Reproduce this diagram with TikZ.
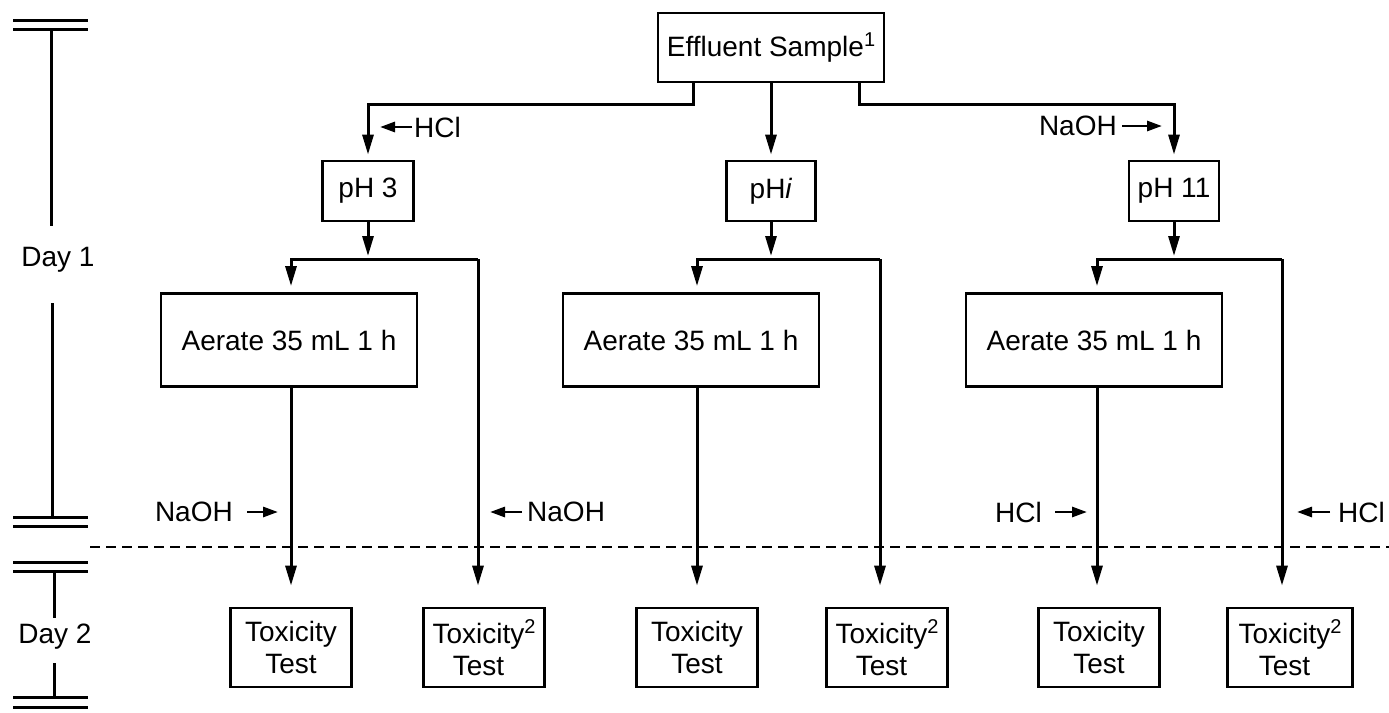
\documentclass[tikz,border=0pt]{standalone}
\usepackage{fontspec}
\setmainfont{Liberation Sans}
\usetikzlibrary{arrows.meta}
\newcommand\supr[1]{\raisebox{10pt}{\fontsize{20}{20}\selectfont #1}}
\begin{document}
\begin{tikzpicture}[x=1pt,y=-1pt,
  ln/.style={line width=3pt},
  box/.style={draw, line width=2.8pt, inner sep=0pt, align=center, font=\fontsize{28}{32}\selectfont},
  lbl/.style={inner sep=0pt, font=\fontsize{28}{32}\selectfont},
  arr/.style={ln, -{Triangle[length=20pt,width=11pt]}},
  larr/.style={line width=2.8pt, -{Triangle[length=15pt,width=10pt]}},
  phbox/.style={box, minimum height=60pt},
  aerbox/.style={box, minimum width=256pt, minimum height=93pt},
  toxbox/.style={box, minimum width=121pt, minimum height=79pt},
]
\useasboundingbox (0,0) rectangle (1389,712);

% nodes
\node[box, minimum width=226pt, minimum height=69pt] (eff) at (771,47.5) {Effluent Sample\supr{1}};
\node[phbox, minimum width=91pt] (ph3) at (368,191) {pH 3};
\node[phbox, minimum width=89pt] (phi) at (771,191) {pH\textit{i}};
\node[phbox, minimum width=90pt] (ph11) at (1174,191) {pH 11};

\node[aerbox] (aer1) at (289,340) {Aerate 35 mL 1 h};
\node[aerbox] (aer2) at (691,340) {Aerate 35 mL 1 h};
\node[aerbox] (aer3) at (1094,340) {Aerate 35 mL 1 h};

\node[toxbox] (tox1) at (291,647.5) {Toxicity\\Test};
\node[toxbox] (tox1b) at (484,647.5) {Toxicity\supr{2}\\Test\hphantom{\supr{2}}};
\node[toxbox] (tox2) at (697,647.5) {Toxicity\\Test};
\node[toxbox] (tox2b) at (887,647.5) {Toxicity\supr{2}\\Test\hphantom{\supr{2}}};
\node[toxbox] (tox3) at (1099,647.5) {Toxicity\\Test};
\node[toxbox, minimum width=125pt] (tox3b) at (1290,647.5) {Toxicity\supr{2}\\Test\hphantom{\supr{2}}};

% branch from effluent sample
\coordinate (bL) at (693,104);
\coordinate (bR) at (859,104);
\draw[arr, shorten >=5pt] (bL |- eff.south) -- (bL) -| (ph3.north);
\draw[arr, shorten >=5pt] (eff.south) -- (eff.south |- phi.north);
\draw[arr, shorten >=5pt] (bR |- eff.south) -- (bR) -| (ph11.north);

% splits
\coordinate (sL1) at (291,259); \coordinate (sR1) at (478,259);
\coordinate (sL2) at (697,259); \coordinate (sR2) at (880,259);
\coordinate (sL3) at (1097,259); \coordinate (sR3) at (1282,259);

\draw[arr, shorten >=3pt] (ph3.south) -- (ph3.south |- sL1);
\draw[arr, shorten >=3pt] (phi.south) -- (phi.south |- sL2);
\draw[arr, shorten >=3pt] (ph11.south) -- (ph11.south |- sL3);

\draw[arr, shorten >=6pt] (sR1) -- (sL1) -- (sL1 |- aer1.north);
\draw[arr, shorten >=6pt] (sR2) -- (sL2) -- (sL2 |- aer2.north);
\draw[arr, shorten >=6pt] (sR3) -- (sL3) -- (sL3 |- aer3.north);

\draw[arr, shorten >=21pt] (sR1) -- (sR1 |- tox1b.north);
\draw[arr, shorten >=21pt] (sR2) -- (sR2 |- tox2b.north);
\draw[arr, shorten >=21pt] (sR3) -- (sR3 |- tox3b.north);

\draw[arr, shorten >=21pt] (sL1 |- aer1.south) -- (sL1 |- tox1.north);
\draw[arr, shorten >=21pt] (sL2 |- aer2.south) -- (sL2 |- tox2.north);
\draw[arr, shorten >=21pt] (sL3 |- aer3.south) -- (sL3 |- tox3.north);

% chemical labels
\node[lbl, anchor=west] (hclA) at (414,127) {HCl};
\draw[larr] ([xshift=-2pt]hclA.west) -- ++(-32,0);
\node[lbl, anchor=east] (naohA) at (1117,126) {NaOH};
\draw[larr] ([xshift=5pt]naohA.east) -- ++(40,0);

\node[lbl, anchor=east] (naohB) at (233,512) {NaOH};
\draw[larr] ([xshift=14pt]naohB.east) -- ++(31,0);
\node[lbl, anchor=west] (naohC) at (527,512) {NaOH};
\draw[larr] ([xshift=-5pt]naohC.west) -- ++(-32,0);
\node[lbl, anchor=east] (hclB) at (1042,512) {HCl};
\draw[larr] ([xshift=13pt]hclB.east) -- ++(32,0);
\node[lbl, anchor=west] (hclC) at (1338,512) {HCl};
\draw[larr] ([xshift=-8pt]hclC.west) -- ++(-33,0);

% dashed day separator
\coordinate (dA) at (90,547);
\coordinate (dB) at (1389,547);
\draw[line width=2.4pt, dash pattern=on 10pt off 6pt] (dA) -- (dB);

% timeline
\node[lbl] (day1) at (58,260) {Day 1};
\node[lbl] (day2) at (55,637) {Day 2};
\draw[ln] (13,20) -- (88,20);
\draw[ln] (13,29) -- (88,29);
\draw[ln] (51,29) -- (51,226);
\draw[ln] (52,303) -- (52,517);
\draw[ln] (13,517) -- (88,517);
\draw[ln] (13,526) -- (88,526);
\draw[ln] (13,562) -- (88,562);
\draw[ln] (13,571) -- (88,571);
\draw[ln] (54,571) -- (54,618);
\draw[ln] (54,663) -- (54,697);
\draw[ln] (13,697) -- (88,697);
\draw[ln] (13,707) -- (88,707);
\end{tikzpicture}
\end{document}
